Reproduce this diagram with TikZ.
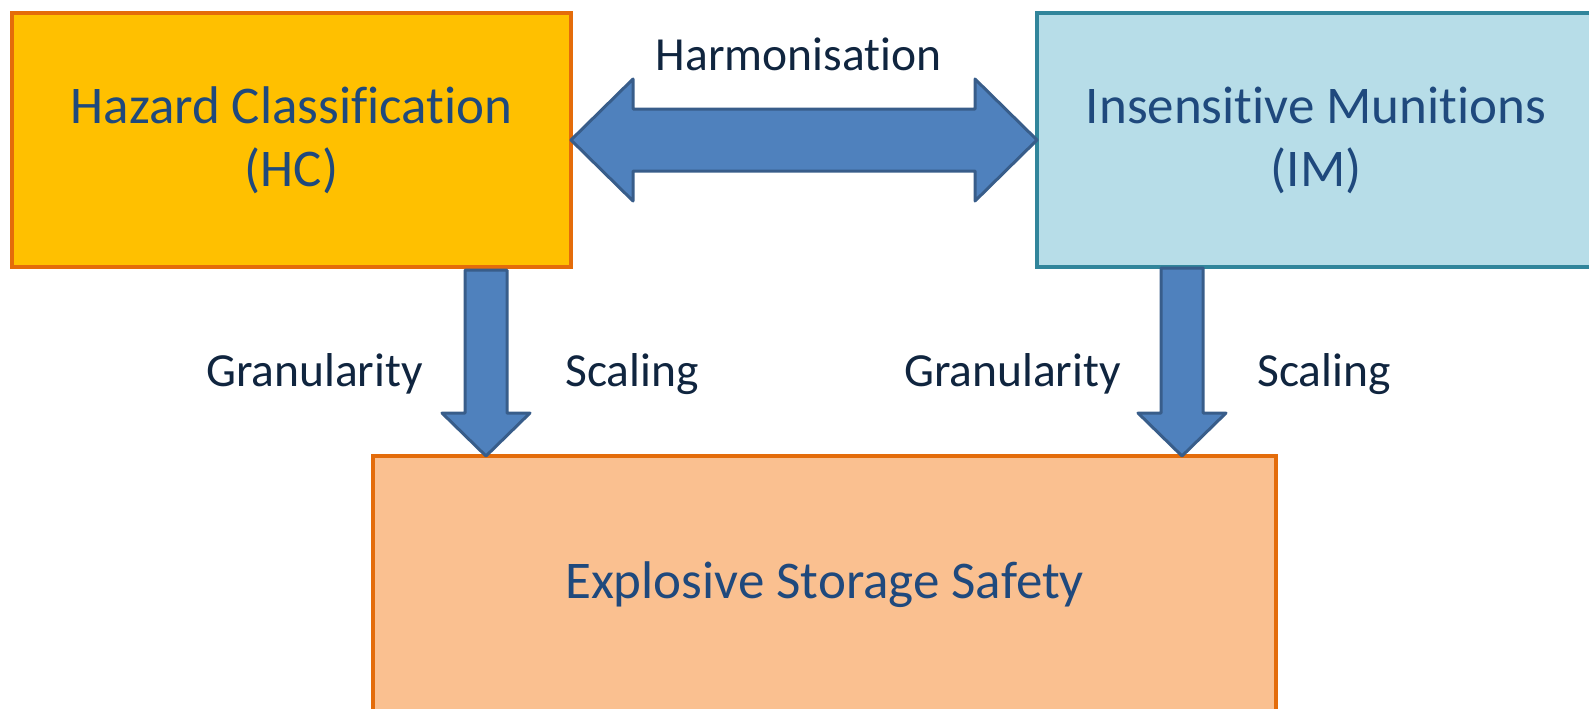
\documentclass[tikz,border=0pt]{standalone}
\usepackage{fontspec}
\setmainfont{Carlito}[Ligatures=NoCommon]
\usetikzlibrary{calc}

\definecolor{hcfill}{RGB}{255,192,0}
\definecolor{orangeline}{RGB}{228,108,10}
\definecolor{imfill}{RGB}{183,221,232}
\definecolor{imline}{RGB}{49,133,155}
\definecolor{essfill}{RGB}{250,192,144}
\definecolor{arrowfill}{RGB}{79,129,189}
\definecolor{arrowline}{RGB}{56,93,138}
\definecolor{boxtext}{RGB}{31,73,125}
\definecolor{labeltext}{RGB}{16,37,63}

\newlength{\du}
\setlength{\du}{0.5pt}

\tikzset{
  box/.style={draw, line width=4\du, outer sep=0pt, inner sep=0pt, align=center,
    text=boxtext, font=\fontsize{26.5}{31.5}\selectfont},
  blockarrow/.style={draw=arrowline, fill=arrowfill, line width=3\du, line join=round},
  lbl/.style={anchor=base, inner sep=0pt, text=labeltext, font=\fontsize{23.75}{28}\selectfont}
}

\begin{document}
\begin{tikzpicture}
\pgftransformxscale{1.000000}
\pgftransformyscale{-1.000000}
\useasboundingbox (0\du,0\du) rectangle (1589\du,708\du);
\node[box, fill=hcfill, draw=orangeline, minimum width=559\du, minimum height=254\du] (hc) at (291.5\du,140\du) {Hazard Classification\\(HC)};
\node[box, fill=imfill, draw=imline, minimum width=558\du, minimum height=254\du] (im) at (1316\du,140\du) {Insensitive Munitions\\(IM)};
\node[box, fill=essfill, draw=orangeline, minimum width=903\du, minimum height=258\du] (ess) at (824.5\du,585\du) {Explosive Storage Safety};
% harmonisation
\draw[blockarrow] (hc.east) -- ($(hc.east)+(62\du,-61\du)$) -- ($(hc.east)+(62\du,-31\du)$)
  -- ($(im.west)+(-62\du,-31\du)$) -- ($(im.west)+(-62\du,-61\du)$) -- (im.west)
  -- ($(im.west)+(-62\du,61\du)$) -- ($(im.west)+(-62\du,31\du)$)
  -- ($(hc.east)+(62\du,31\du)$) -- ($(hc.east)+(62\du,61\du)$) -- cycle;
\coordinate (hcout) at ($(hc.south)+(194.5\du,3\du)$);
\coordinate (hcin) at (hcout |- ess.north);
\coordinate (imout) at ($(im.south)+(-134\du,1\du)$);
\coordinate (imin) at (imout |- ess.north);
\draw[blockarrow] ($(hcout)+(-21\du,0)$) -- ($(hcin)+(-21\du,-43\du)$) -- ($(hcin)+(-44\du,-43\du)$) -- (hcin)
  -- ($(hcin)+(44\du,-43\du)$) -- ($(hcin)+(21\du,-43\du)$) -- ($(hcout)+(21\du,0)$) -- cycle;
\draw[blockarrow] ($(imout)+(-21\du,0)$) -- ($(imin)+(-21\du,-43\du)$) -- ($(imin)+(-44\du,-43\du)$) -- (imin)
  -- ($(imin)+(44\du,-43\du)$) -- ($(imin)+(21\du,-43\du)$) -- ($(imout)+(21\du,0)$) -- cycle;
\node[lbl] (harm) at (798.5\du,70\du) {Harmonisation};
\node[lbl] (granhc) at (314.5\du,386\du) {Granularity};
\node[lbl] (scalhc) at (632\du,386\du) {Scaling};
\node[lbl] (granim) at (1012.5\du,386\du) {Granularity};
\node[lbl] (scalim) at (1324\du,386\du) {Scaling};
\end{tikzpicture}
\end{document}
